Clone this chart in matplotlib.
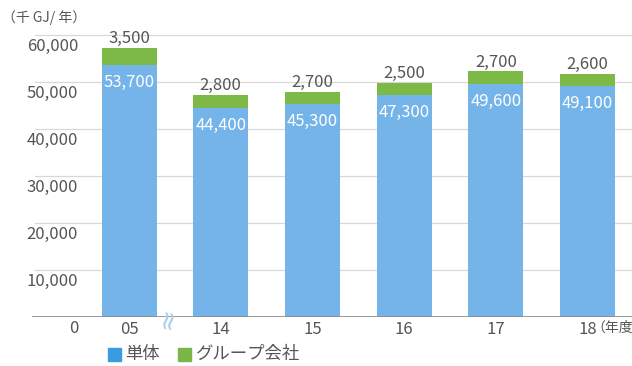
import matplotlib
matplotlib.use('Agg')
import matplotlib.pyplot as plt

plt.rcParams['font.family'] = ['Noto Sans CJK JP', 'DejaVu Sans']

years = ['05', '14', '15', '16', '17', '18']
single = [53700, 44400, 45300, 47300, 49600, 49100]
group = [3500, 2800, 2700, 2500, 2700, 2600]
yticks = [0, 10000, 20000, 30000, 40000, 50000, 60000]

blue = '#74b4e9'
green = '#7db946'
text_col = '#555555'

fig = plt.figure(figsize=(6.32, 3.66), dpi=100)
ax = fig.add_axes([32 / 632, 1 - 317 / 366, 600 / 632, 310 / 366])

x = list(range(len(years)))
ax.bar(x, single, width=0.6, color=blue, zorder=3)
ax.bar(x, group, width=0.6, bottom=single, color=green, zorder=3)

for i in x:
    top = single[i] + group[i]
    ax.text(i, top + 2000, f'{group[i]:,}', ha='center', va='center',
            fontsize=12, color=text_col, zorder=4)
    ax.text(i, single[i] - 3700, f'{single[i]:,}', ha='center', va='center',
            fontsize=12, color='white', zorder=4)

ax.set_xlim(-1.058, 5.485)
ax.set_ylim(0, 66000)
for v in yticks[1:]:
    ax.axhline(v, xmin=0.005, color='#d8d8d8', lw=0.9, zorder=1)
ax.axhline(0, color='#8a8a8a', lw=1.2, zorder=5)

# y labels sit a little below their gridlines
ax.set_yticks([])
for v in yticks:
    ax.text((78 - 32) / 600, v - 2400, f'{v:,}', transform=ax.get_yaxis_transform(),
            ha='right', va='center', fontsize=12, color=text_col)

ax.set_xticks(x)
ax.set_xticklabels(years)
ax.tick_params(axis='x', length=0, pad=3, labelsize=12, labelcolor=text_col)
for s in ax.spines.values():
    s.set_visible(False)

# units
fig.text(2 / 632, 1 - 18 / 366, '（千 GJ/ 年）', ha='left', va='center', fontsize=10, color=text_col)
fig.text(591 / 632, 1 - 328 / 366, '（年度', ha='left', va='center', fontsize=10, color=text_col)

# axis break mark
fig.text(168 / 632, 1 - 319 / 366, '≈', ha='center', va='center', fontsize=19,
         color='#a9cdea', rotation=80, family='DejaVu Sans')

# legend
fig.patches.append(plt.Rectangle((108 / 632, 1 - 361 / 366), 13 / 632, 13 / 366,
                                 transform=fig.transFigure, color='#3a9be0'))
fig.text(125 / 632, 1 - 354 / 366, '単体', ha='left', va='center', fontsize=12.5, color=text_col)
fig.patches.append(plt.Rectangle((178 / 632, 1 - 361 / 366), 13 / 632, 13 / 366,
                                 transform=fig.transFigure, color='#7ab648'))
fig.text(196 / 632, 1 - 354 / 366, 'グループ会社', ha='left', va='center', fontsize=12.5, color=text_col)

fig.savefig('out.png', dpi=100)
